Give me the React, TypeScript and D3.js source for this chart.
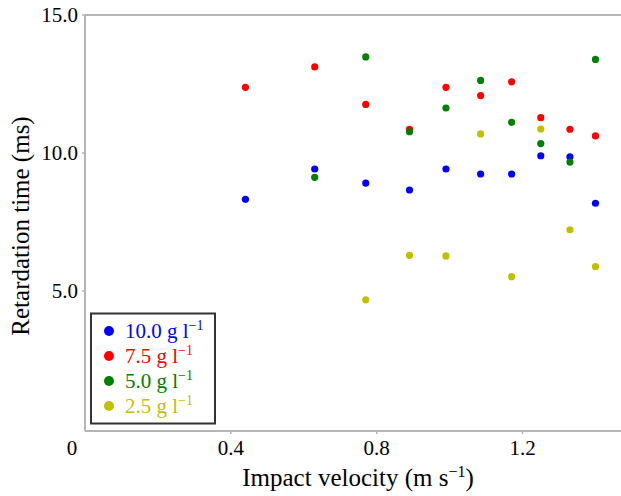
import React from "react";
import * as d3 from "d3";

const velocities = [0.44, 0.63, 0.77, 0.89, 0.99, 1.085, 1.17, 1.25, 1.33, 1.40];
const series10 = [8.32, 9.42, 8.91, 8.66, 9.42, 9.24, 9.24, 9.9, 9.86, 8.18];
const series75 = [12.38, 13.12, 11.76, 10.86, 12.38, 12.08, 12.58, 11.28, 10.86, 10.62];
const series50 = [null, 9.12, 13.48, 10.77, 11.63, 12.63, 11.11, 10.34, 9.67, 13.39];
const series25 = [null, null, 4.68, 6.29, 6.27, 10.69, 5.52, 10.87, 7.22, 5.88];
const seriesLabels = ["10.0 g l", "7.5 g l", "5.0 g l", "2.5 g l"];
const seriesColors = ["#0000ff", "#ff0000", "#008000", "#c0c000"];
const xTicks = [0.4, 0.8, 1.2];
const yTicks = [5, 10, 15];

export default function App() {
  const W = 621, H = 496;
  const x = d3.scaleLinear().domain([0, 1.47]).range([85, 621]);
  const y = d3.scaleLinear().domain([0, 15]).range([429, 15]);
  const all = [series10, series75, series50, series25];
  const font = "'Liberation Serif', 'Times New Roman', serif";
  const axisColor = "#b4b4b4";
  return (
    <svg width={W} height={H} style={{ position: "absolute", left: 0, top: 0, background: "#fff" }} fontFamily={font}>
      <rect width={W} height={H} fill="#fff" />
      {/* axes */}
      <line x1={x(0)} x2={621} y1={y(15)} y2={y(15)} stroke={axisColor} strokeWidth={2} />
      <line x1={x(0)} x2={x(0)} y1={y(15)} y2={431} stroke={axisColor} strokeWidth={2} />
      <line x1={x(0)} x2={621} y1={431} y2={431} stroke={axisColor} strokeWidth={2} />
      {yTicks.map((t) => (
        <g key={"y" + t}>
          <line x1={x(0) - 3} x2={x(0)} y1={y(t)} y2={y(t)} stroke={axisColor} strokeWidth={1.5} />
          <text x={78} y={y(t)} dy="0.35em" textAnchor="end" fontSize={21}>{t.toFixed(1)}</text>
        </g>
      ))}
      {xTicks.map((t) => (
        <g key={"x" + t}>
          <line x1={x(t)} x2={x(t)} y1={431} y2={434} stroke={axisColor} strokeWidth={1.5} />
          <text x={x(t)} y={455} textAnchor="middle" fontSize={21}>{t.toFixed(1)}</text>
        </g>
      ))}
      <text x={72} y={455} textAnchor="middle" fontSize={21}>0</text>
      <text x={358} y={486} textAnchor="middle" fontSize={25}>
        Impact velocity (m s<tspan dy={-9} fontSize={16}>−1</tspan><tspan dy={9}>)</tspan>
      </text>
      <text transform={`translate(29,${226}) rotate(-90)`} textAnchor="middle" fontSize={25}>Retardation time (ms)</text>
      {/* points */}
      {all.map((s, si) =>
        s.map((v, i) =>
          v == null ? null : (
            <circle key={si + "-" + i} cx={x(velocities[i])} cy={y(v)} r={3.6} fill={seriesColors[si]} />
          )
        )
      )}
      {/* legend */}
      <rect x={91} y={313.5} width={124} height={110} fill="#fff" stroke="#333" strokeWidth={2} />
      {seriesLabels.map((lab, i) => (
        <g key={lab} transform={`translate(0,${331 + i * 25})`}>
          <circle cx={109} cy={0} r={5} fill={seriesColors[i]} />
          <text x={125} y={0} dy="0.35em" fontSize={21} fill={seriesColors[i]}>
            {lab}<tspan dy={-8} fontSize={14}>−1</tspan>
          </text>
        </g>
      ))}
    </svg>
  );
}
